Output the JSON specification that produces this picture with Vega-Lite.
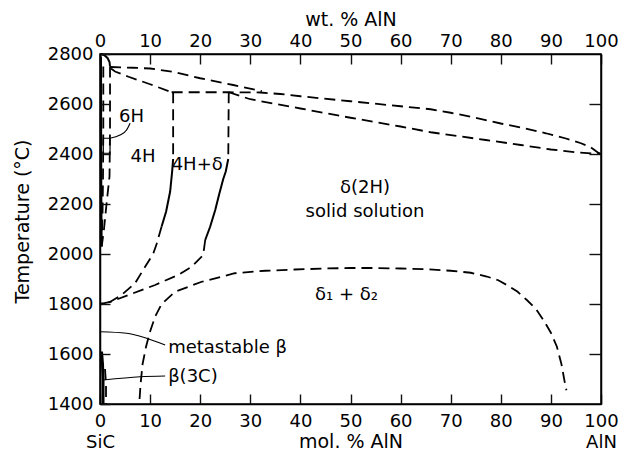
{
  "$schema": "https://vega.github.io/schema/vega-lite/v6.json",
  "width": 501,
  "height": 350,
  "autosize": "none",
  "padding": {"left": 100, "top": 54, "right": 19, "bottom": 51},
  "background": "white",
  "config": {
    "font": "DejaVu Sans",
    "view": {"stroke": "black", "strokeWidth": 1.5},
    "axis": {
      "grid": false, "domainColor": "black", "domainWidth": 1.5,
      "tickWidth": 1.4, "tickSize": 10,
      "labelColor": "black", "labelFontSize": 18, "labelFont": "DejaVu Sans",
      "titleColor": "black", "titleFontSize": 19, "titleFontWeight": "normal", "titleFont": "DejaVu Sans",
      "labelFlush": false, "labelOverlap": false, "format": "d"
    },
    "text": {"font": "DejaVu Sans", "fontSize": 18, "color": "black"}
  },
  "datasets": {
    "curves": [
      {"c": "L4H", "x": 2, "y": 2748}, {"c": "L4H", "x": 6.6, "y": 2745}, {"c": "L4H", "x": 10, "y": 2742}, {"c": "L4H", "x": 14.6, "y": 2729}, {"c": "L4H", "x": 20, "y": 2703}, {"c": "L4H", "x": 26.6, "y": 2676}, {"c": "L4H", "x": 32.3, "y": 2651},
      {"c": "diag", "x": 2.2, "y": 2742}, {"c": "diag", "x": 3, "y": 2730}, {"c": "diag", "x": 5.7, "y": 2709}, {"c": "diag", "x": 10, "y": 2679}, {"c": "diag", "x": 14.3, "y": 2647},
      {"c": "peri", "x": 14.3, "y": 2647}, {"c": "peri", "x": 20, "y": 2647}, {"c": "peri", "x": 25.7, "y": 2647}, {"c": "peri", "x": 32, "y": 2646}, {"c": "peri", "x": 36, "y": 2640}, {"c": "peri", "x": 40, "y": 2631}, {"c": "peri", "x": 50, "y": 2611}, {"c": "peri", "x": 60, "y": 2591}, {"c": "peri", "x": 66, "y": 2579}, {"c": "peri", "x": 70, "y": 2565}, {"c": "peri", "x": 75, "y": 2545}, {"c": "peri", "x": 80, "y": 2522}, {"c": "peri", "x": 85, "y": 2502}, {"c": "peri", "x": 89, "y": 2483}, {"c": "peri", "x": 93, "y": 2462}, {"c": "peri", "x": 96, "y": 2443}, {"c": "peri", "x": 98, "y": 2426}, {"c": "peri", "x": 99.3, "y": 2407}, {"c": "peri", "x": 100, "y": 2400},
      {"c": "dsol", "x": 25.7, "y": 2647}, {"c": "dsol", "x": 30, "y": 2619}, {"c": "dsol", "x": 40, "y": 2582}, {"c": "dsol", "x": 50, "y": 2545}, {"c": "dsol", "x": 60, "y": 2510}, {"c": "dsol", "x": 66, "y": 2487}, {"c": "dsol", "x": 72, "y": 2470}, {"c": "dsol", "x": 77, "y": 2456}, {"c": "dsol", "x": 84, "y": 2436}, {"c": "dsol", "x": 90, "y": 2418}, {"c": "dsol", "x": 95, "y": 2407}, {"c": "dsol", "x": 100, "y": 2400},
      {"c": "h4top", "x": 14.6, "y": 2647}, {"c": "h4top", "x": 14.6, "y": 2380},
      {"c": "h4bot", "x": 12.3, "y": 2110}, {"c": "h4bot", "x": 11.3, "y": 2040}, {"c": "h4bot", "x": 10.6, "y": 2000}, {"c": "h4bot", "x": 9, "y": 1949}, {"c": "h4bot", "x": 7, "y": 1883}, {"c": "h4bot", "x": 4.3, "y": 1836}, {"c": "h4bot", "x": 2, "y": 1808}, {"c": "h4bot", "x": 0, "y": 1800},
      {"c": "dtop", "x": 25.7, "y": 2647}, {"c": "dtop", "x": 25.6, "y": 2380},
      {"c": "dbot", "x": 21, "y": 2056}, {"c": "dbot", "x": 20.6, "y": 1996}, {"c": "dbot", "x": 18.3, "y": 1949}, {"c": "dbot", "x": 15.6, "y": 1916}, {"c": "dbot", "x": 11, "y": 1876}, {"c": "dbot", "x": 5.7, "y": 1836}, {"c": "dbot", "x": 2, "y": 1808}, {"c": "dbot", "x": 0, "y": 1800},
      {"c": "dome", "x": 7.9, "y": 1420}, {"c": "dome", "x": 8.1, "y": 1480}, {"c": "dome", "x": 8.5, "y": 1560}, {"c": "dome", "x": 9.2, "y": 1630}, {"c": "dome", "x": 10, "y": 1690}, {"c": "dome", "x": 11, "y": 1749}, {"c": "dome", "x": 12.3, "y": 1800}, {"c": "dome", "x": 15, "y": 1849}, {"c": "dome", "x": 20.3, "y": 1889}, {"c": "dome", "x": 26.9, "y": 1923}, {"c": "dome", "x": 33, "y": 1933}, {"c": "dome", "x": 38.9, "y": 1938}, {"c": "dome", "x": 45, "y": 1942}, {"c": "dome", "x": 50, "y": 1944}, {"c": "dome", "x": 55, "y": 1944}, {"c": "dome", "x": 60, "y": 1942}, {"c": "dome", "x": 65, "y": 1939}, {"c": "dome", "x": 70, "y": 1933}, {"c": "dome", "x": 74, "y": 1925}, {"c": "dome", "x": 77.2, "y": 1910}, {"c": "dome", "x": 79.5, "y": 1895}, {"c": "dome", "x": 81.2, "y": 1876}, {"c": "dome", "x": 83.3, "y": 1850}, {"c": "dome", "x": 85.2, "y": 1816}, {"c": "dome", "x": 87, "y": 1780}, {"c": "dome", "x": 88.5, "y": 1736}, {"c": "dome", "x": 90, "y": 1685}, {"c": "dome", "x": 91.2, "y": 1629}, {"c": "dome", "x": 92.1, "y": 1560}, {"c": "dome", "x": 92.8, "y": 1483}, {"c": "dome", "x": 93.1, "y": 1455},
      {"c": "h6L", "x": 0.66, "y": 2750}, {"c": "h6L", "x": 0.66, "y": 2500}, {"c": "h6L", "x": 0.6, "y": 2300}, {"c": "h6L", "x": 0.5, "y": 2150}, {"c": "h6L", "x": 0.35, "y": 2040},
      {"c": "h6R", "x": 2, "y": 2750}, {"c": "h6R", "x": 2, "y": 2500}, {"c": "h6R", "x": 1.9, "y": 2310}, {"c": "h6R", "x": 1.3, "y": 2200}, {"c": "h6R", "x": 0.8, "y": 2100}, {"c": "h6R", "x": 0.35, "y": 2030},
      {"c": "c3R", "x": 1.0, "y": 1540}, {"c": "c3R", "x": 1.2, "y": 1480}, {"c": "c3R", "x": 1.2, "y": 1400},
      {"c": "h4mid", "x": 14.6, "y": 2380}, {"c": "h4mid", "x": 14.4, "y": 2330}, {"c": "h4mid", "x": 14.0, "y": 2250}, {"c": "h4mid", "x": 13.2, "y": 2170}, {"c": "h4mid", "x": 12.3, "y": 2110},
      {"c": "dmid", "x": 25.6, "y": 2380}, {"c": "dmid", "x": 25.1, "y": 2330}, {"c": "dmid", "x": 24.6, "y": 2300}, {"c": "dmid", "x": 23.8, "y": 2240}, {"c": "dmid", "x": 23, "y": 2176}, {"c": "dmid", "x": 22, "y": 2110}, {"c": "dmid", "x": 21, "y": 2056},
      {"c": "cap", "x": 0, "y": 2800}, {"c": "cap", "x": 0.8, "y": 2796}, {"c": "cap", "x": 1.5, "y": 2784}, {"c": "cap", "x": 1.9, "y": 2768}, {"c": "cap", "x": 2, "y": 2750},
      {"c": "h6sol", "x": 0.2, "y": 2790}, {"c": "h6sol", "x": 0.25, "y": 2300}, {"c": "h6sol", "x": 0.3, "y": 2100}, {"c": "h6sol", "x": 0.35, "y": 2030},
      {"c": "c3L", "x": 0.3, "y": 1610}, {"c": "c3L", "x": 0.5, "y": 1560}, {"c": "c3L", "x": 0.6, "y": 1500}, {"c": "c3L", "x": 0.6, "y": 1400},
      {"c": "leadMeta", "x": 0, "y": 1689}, {"c": "leadMeta", "x": 5.3, "y": 1683}, {"c": "leadMeta", "x": 9.3, "y": 1663}, {"c": "leadMeta", "x": 13, "y": 1636},
      {"c": "lead3C", "x": 0.7, "y": 1496}, {"c": "lead3C", "x": 8, "y": 1509}, {"c": "lead3C", "x": 13, "y": 1512},
      {"c": "lead6H", "x": 2.0, "y": 2463}, {"c": "lead6H", "x": 4, "y": 2476}, {"c": "lead6H", "x": 5.3, "y": 2496}, {"c": "lead6H", "x": 6, "y": 2523}
    ],
    "labelsC": [
      {"t": "6H", "x": 6.3, "y": 2549},
      {"t": "4H", "x": 8.6, "y": 2389},
      {"t": "4H+δ", "x": 19.4, "y": 2356},
      {"t": "δ(2H)", "x": 52.9, "y": 2263},
      {"t": "solid solution", "x": 52.9, "y": 2169},
      {"t": "δ₁ + δ₂", "x": 49.2, "y": 1836}
    ],
    "labelsL": [
      {"t": "metastable β", "x": 13.6, "y": 1623},
      {"t": "β(3C)", "x": 13.6, "y": 1509}
    ],
    "boxes": [
      {"x": 0.66, "x2": 2.0, "y": 2463, "y2": 2403}
    ]
  },
  "layer": [
    {
      "data": {"name": "curves"},
      "transform": [{"filter": {"field": "c", "oneOf": ["L4H", "diag", "peri", "dsol", "h4top", "h4bot", "dtop", "dbot", "dome", "h6L", "h6R", "c3R"]}}],
      "mark": {"type": "line", "strokeDash": [11, 6], "strokeWidth": 1.8, "color": "black"},
      "encoding": {
        "x": {"field": "x", "type": "quantitative", "scale": {"domain": [0, 100], "nice": false},
          "axis": {"orient": "bottom", "values": [0, 10, 20, 30, 40, 50, 60, 70, 80, 90, 100], "title": "mol. % AlN",
            "labelExpr": "datum.value == 0 ? ['0','SiC'] : datum.value == 100 ? ['100','AlN'] : datum.label",
            "ticks": true, "tickSize": -10, "tickColor": "#111111", "zindex": 2, "labelPadding": 18, "labelLineHeight": 21, "titleY": 37, "titleBaseline": "middle"}},
        "y": {"field": "y", "type": "quantitative", "scale": {"domain": [1400, 2800], "nice": false, "zero": false},
          "axis": {"orient": "left", "values": [1400, 1600, 1800, 2000, 2200, 2400, 2600, 2800], "title": "Temperature (°C)",
            "ticks": true, "tickSize": -10, "tickColor": "#111111", "zindex": 2, "labelPadding": 17, "titleX": -78, "titleY": 167, "titleBaseline": "middle"}},
        "detail": {"field": "c"},
        "order": {"value": null}
      }
    },
    {
      "data": {"name": "curves"},
      "transform": [{"filter": {"field": "c", "oneOf": ["h4mid", "dmid", "cap", "h6sol"]}}],
      "mark": {"type": "line", "strokeWidth": 2, "color": "black"},
      "encoding": {
        "x": {"field": "x", "type": "quantitative", "scale": {"domain": [0, 100], "nice": false},
          "axis": {"orient": "top", "values": [0, 10, 20, 30, 40, 50, 60, 70, 80, 90, 100], "title": "wt. % AlN",
            "ticks": true, "tickSize": -10, "tickColor": "#111111", "zindex": 2, "labelPadding": 14, "titleY": -35, "titleBaseline": "middle"}},
        "y": {"field": "y", "type": "quantitative", "scale": {"domain": [1400, 2800], "nice": false, "zero": false},
          "axis": {"orient": "right", "values": [1600, 1800, 2000, 2200, 2400, 2600], "labels": false, "title": null,
            "ticks": true, "tickSize": -12, "tickColor": "#111111", "zindex": 2}},
        "detail": {"field": "c"},
        "order": {"value": null}
      }
    },
    {
      "data": {"name": "curves"},
      "transform": [{"filter": {"field": "c", "oneOf": ["c3L"]}}],
      "mark": {"type": "line", "strokeWidth": 3, "color": "black"},
      "encoding": {
        "x": {"field": "x", "type": "quantitative", "scale": {"domain": [0, 100], "nice": false},
          "axis": {"orient": "bottom", "labels": false, "domain": false, "title": null, "tickOpacity": 0, "values": [50]}},
        "y": {"field": "y", "type": "quantitative", "scale": {"domain": [1400, 2800], "nice": false, "zero": false},
          "axis": {"orient": "left", "labels": false, "domain": false, "title": null, "tickOpacity": 0, "values": [2000]}},
        "detail": {"field": "c"},
        "order": {"value": null}
      }
    },
    {
      "data": {"name": "curves"},
      "transform": [{"filter": {"field": "c", "oneOf": ["leadMeta", "lead3C", "lead6H"]}}],
      "mark": {"type": "line", "strokeWidth": 1.2, "color": "black", "interpolate": "monotone"},
      "encoding": {
        "x": {"field": "x", "type": "quantitative", "scale": {"domain": [0, 100], "nice": false},
          "axis": {"orient": "top", "labels": false, "domain": false, "title": null, "tickOpacity": 0, "values": [50]}},
        "y": {"field": "y", "type": "quantitative", "scale": {"domain": [1400, 2800], "nice": false, "zero": false},
          "axis": {"orient": "right", "labels": false, "domain": false, "title": null, "tickOpacity": 0, "values": [2000]}},
        "detail": {"field": "c"},
        "order": {"value": null}
      }
    },
    {
      "data": {"name": "boxes"},
      "mark": {"type": "rect", "fillOpacity": 0, "stroke": "black", "strokeWidth": 1.2},
      "encoding": {
        "x": {"field": "x", "type": "quantitative", "scale": {"domain": [0, 100], "nice": false},
          "axis": {"orient": "bottom", "labels": false, "domain": false, "title": null, "tickOpacity": 0, "values": [50]}},
        "x2": {"field": "x2"},
        "y": {"field": "y", "type": "quantitative", "scale": {"domain": [1400, 2800], "nice": false, "zero": false},
          "axis": {"orient": "left", "labels": false, "domain": false, "title": null, "tickOpacity": 0, "values": [2000]}},
        "y2": {"field": "y2"}
      }
    },
    {
      "data": {"name": "labelsC"},
      "mark": {"type": "text", "align": "center", "baseline": "middle", "fontSize": 18},
      "encoding": {
        "x": {"field": "x", "type": "quantitative", "scale": {"domain": [0, 100], "nice": false},
          "axis": {"orient": "top", "labels": false, "domain": false, "title": null, "tickOpacity": 0, "values": [50]}},
        "y": {"field": "y", "type": "quantitative", "scale": {"domain": [1400, 2800], "nice": false, "zero": false},
          "axis": {"orient": "right", "labels": false, "domain": false, "title": null, "tickOpacity": 0, "values": [2000]}},
        "text": {"field": "t"}
      }
    },
    {
      "data": {"name": "labelsL"},
      "mark": {"type": "text", "align": "left", "baseline": "middle", "fontSize": 18},
      "encoding": {
        "x": {"field": "x", "type": "quantitative", "scale": {"domain": [0, 100], "nice": false},
          "axis": {"orient": "bottom", "labels": false, "domain": false, "title": null, "tickOpacity": 0, "values": [50]}},
        "y": {"field": "y", "type": "quantitative", "scale": {"domain": [1400, 2800], "nice": false, "zero": false},
          "axis": {"orient": "left", "labels": false, "domain": false, "title": null, "tickOpacity": 0, "values": [2000]}},
        "text": {"field": "t"}
      }
    }
  ],
  "resolve": {"axis": {"x": "independent", "y": "independent"}}
}
